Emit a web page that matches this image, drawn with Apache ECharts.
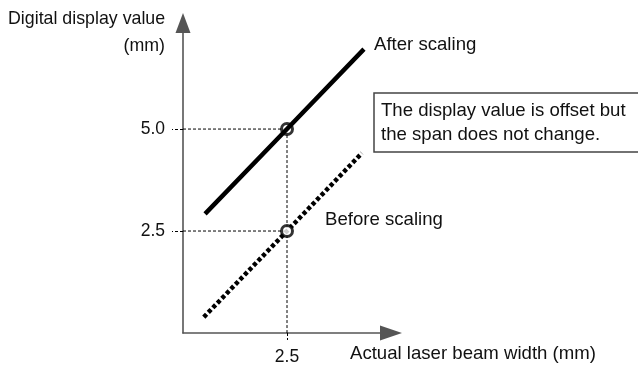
<!DOCTYPE html>
<html>
<head>
<meta charset="utf-8">
<script src="https://cdn.jsdelivr.net/npm/echarts@6/dist/echarts.min.js"></script>
<style>
  html, body { margin: 0; padding: 0; background: #fff; }
  #chart { width: 638px; height: 366px; }
</style>
</head>
<body>
<div id="chart"></div>
<script>
// Axis ranges and labelled tick values
const xRange = [0, 5];
const yRange = [0, 7.6];
const xTickValues = [2.5];
const yTickValues = [2.5, 5.0];

// Reading after scaling (solid line)
const afterX = [0.53, 2.5, 4.35];
const afterY = [2.92, 5.0, 6.96];

// Reading before scaling (dotted line)
const beforeX = [0.5, 2.5, 4.3];
const beforeY = [0.39, 2.5, 4.41];

// Highlighted readings at the 2.5 mm beam width
const markX = [2.5, 2.5];
const markY = [5.0, 2.5];

const FONT = '"Liberation Sans", Arial, Helvetica, sans-serif';
const AXIS_COLOR = '#555';
const TEXT_FONT = '18.6px ' + FONT;

const zip = (xs, ys) => xs.map((x, i) => [x, ys[i]]);

const chart = echarts.init(document.getElementById('chart'));

chart.setOption({
  backgroundColor: '#fff',
  animation: false,
  grid: { left: 183, right: 247, top: 23, bottom: 33, containLabel: false },
  xAxis: {
    type: 'value',
    min: xRange[0],
    max: xRange[1],
    splitLine: { show: false },
    axisLine: {
      show: true,
      symbol: ['none', 'triangle'],
      symbolSize: [15, 22],
      lineStyle: { color: AXIS_COLOR, width: 1.6 }
    },
    axisTick: {
      show: true,
      customValues: xTickValues,
      length: 7,
      lineStyle: { color: '#000', width: 1, type: [3, 2] }
    },
    axisLabel: {
      customValues: xTickValues,
      formatter: v => v.toFixed(1),
      margin: 15,
      color: '#111',
      fontSize: 17.5,
      fontFamily: FONT
    }
  },
  yAxis: {
    type: 'value',
    min: yRange[0],
    max: yRange[1],
    splitLine: { show: false },
    axisLine: {
      show: true,
      symbol: ['none', 'triangle'],
      symbolSize: [15, 20],
      lineStyle: { color: AXIS_COLOR, width: 1.6 }
    },
    axisTick: {
      show: true,
      customValues: yTickValues,
      length: 11,
      lineStyle: { color: '#000', width: 1, type: [3, 2] }
    },
    axisLabel: {
      customValues: yTickValues,
      formatter: v => v.toFixed(1),
      margin: 18,
      color: '#111',
      fontSize: 17.5,
      fontFamily: FONT
    }
  },
  series: [
    {
      // dashed guides from the 5.0 reading to both axes
      type: 'line',
      data: [[xRange[0], markY[0]], [markX[0], markY[0]], [markX[0], yRange[0]]],
      showSymbol: false,
      silent: true,
      lineStyle: { color: '#000', width: 1, type: [3, 2] },
      z: 1
    },
    {
      // dashed guide from the 2.5 reading to the y axis
      type: 'line',
      data: [[xRange[0], markY[1]], [markX[1], markY[1]]],
      showSymbol: false,
      silent: true,
      lineStyle: { color: '#000', width: 1, type: [3, 2] },
      z: 1
    },
    {
      // ring under the solid line
      type: 'scatter',
      data: [[markX[0], markY[0]]],
      symbol: 'circle',
      symbolSize: 11,
      itemStyle: { color: '#fff', borderColor: '#000', borderWidth: 3 },
      z: 2
    },
    {
      name: 'After scaling',
      type: 'line',
      data: zip(afterX, afterY),
      showSymbol: false,
      lineStyle: { color: '#000', width: 4.5, cap: 'butt' },
      z: 3
    },
    {
      name: 'Before scaling',
      type: 'line',
      data: zip(beforeX, beforeY),
      showSymbol: false,
      lineStyle: { color: '#000', width: 4.5, type: [4, 2.5], cap: 'butt' },
      z: 3
    },
    {
      // ring drawn over the dotted line
      type: 'scatter',
      data: [[markX[1], markY[1]]],
      symbol: 'circle',
      symbolSize: 11,
      itemStyle: { color: '#fff', borderColor: '#000', borderWidth: 3 },
      z: 4
    }
  ],
  graphic: [
    {
      type: 'text', left: 8, top: 10,
      style: { text: 'Digital display value', fill: '#111', font: '17.8px ' + FONT }
    },
    {
      type: 'text', right: 638 - 165, top: 37,
      style: { text: '(mm)', fill: '#111', font: '17.8px ' + FONT, align: 'right' }
    },
    {
      type: 'text', left: 350, top: 344,
      style: { text: 'Actual laser beam width (mm)', fill: '#111', font: TEXT_FONT }
    },
    {
      type: 'text', left: 374, top: 35,
      style: { text: 'After scaling', fill: '#111', font: TEXT_FONT }
    },
    {
      type: 'text', left: 325, top: 210,
      style: { text: 'Before scaling', fill: '#111', font: TEXT_FONT }
    },
    {
      type: 'rect',
      shape: { x: 374, y: 93, width: 290, height: 59 },
      style: { fill: '#fff', stroke: '#444', lineWidth: 1.5 }
    },
    {
      type: 'text', x: 381, y: 99,
      style: {
        text: 'The display value is offset but\nthe span does not change.',
        fill: '#111', font: TEXT_FONT, lineHeight: 24
      }
    }
  ]
});
</script>
</body>
</html>
